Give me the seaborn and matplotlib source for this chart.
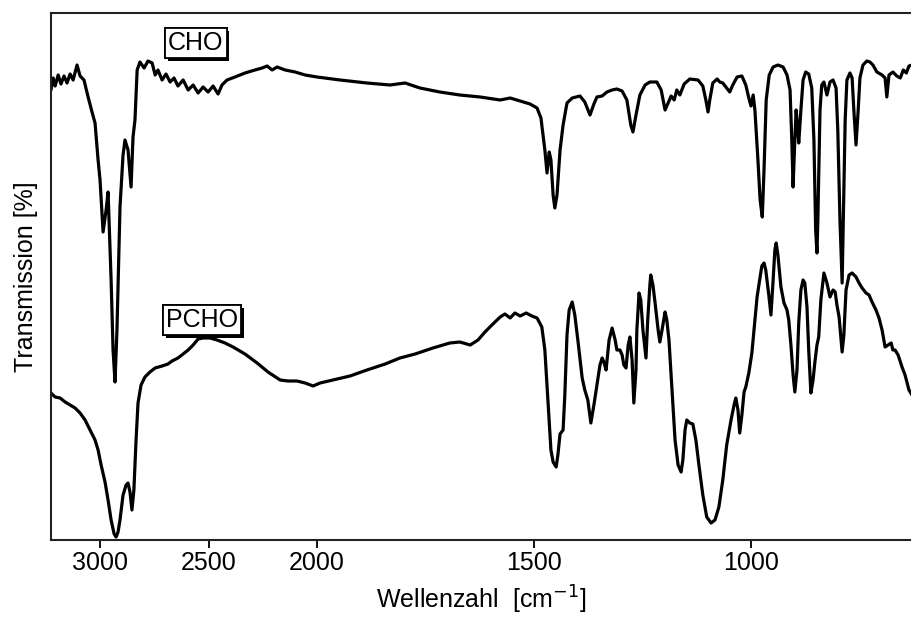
import numpy as np
import pandas as pd
import matplotlib
matplotlib.use("Agg")
import matplotlib.pyplot as plt
import matplotlib.patheffects as pe
import seaborn as sns

# ---- data (wavenumber in cm^-1, transmission in arbitrary %) ----
cho_wn = [3226, 3216, 3207, 3193, 3180, 3166, 3152, 3138, 3124, 3106, 3092, 3074, 3055, 3037, 3023, 3009,
          3000, 2986, 2972, 2963, 2949, 2940, 2931, 2922, 2908, 2894, 2885, 2871, 2857, 2848, 2839, 2829,
          2816, 2797, 2779, 2760, 2746, 2733, 2714, 2696, 2677, 2659, 2641, 2617, 2594, 2571, 2548, 2525,
          2502, 2479, 2456, 2438, 2415, 2378, 2332, 2286, 2253, 2230, 2207, 2184, 2147, 2101, 2055, 2000,
          1947, 1885, 1832, 1797, 1763, 1717, 1671, 1624, 1578, 1555, 1532, 1509, 1493, 1484, 1475, 1470,
          1465, 1461, 1456, 1452, 1447, 1440, 1433, 1424, 1412, 1394, 1383, 1371, 1362, 1355, 1343, 1332,
          1320, 1309, 1297, 1286, 1277, 1272, 1265, 1256, 1244, 1233, 1217, 1207, 1198, 1191, 1184, 1177,
          1171, 1164, 1154, 1141, 1122, 1111, 1104, 1099, 1095, 1088, 1078, 1072, 1065, 1056, 1049, 1042,
          1032, 1021, 1012, 1005, 1000, 995, 991, 984, 979, 974, 970, 965, 958, 949, 938, 926,
          917, 910, 906, 903, 899, 896, 892, 890, 885, 880, 874, 867, 860, 855, 851, 848,
          846, 841, 837, 832, 825, 818, 811, 804, 800, 795, 790, 788, 783, 779, 772, 767,
          763, 758, 753, 749, 742, 733, 726, 719, 710, 698, 691, 687, 682, 673, 664, 656,
          649, 642, 636, 629]
cho_t = [90.0, 92.4, 90.8, 93.0, 91.2, 92.8, 91.4, 93.2, 92.0, 95.0, 92.8, 92.0, 88.6, 85.6, 83.4, 76.0,
         72.0, 61.6, 66.0, 69.6, 52.0, 38.0, 31.6, 42.0, 66.6, 77.0, 80.0, 78.0, 70.6, 80.6, 84.0, 94.0,
         95.6, 94.4, 95.8, 95.4, 93.0, 94.0, 92.0, 93.2, 91.6, 92.4, 90.8, 92.0, 90.0, 91.0, 89.4, 90.6,
         89.6, 90.8, 89.2, 91.0, 92.0, 92.6, 93.4, 94.0, 94.4, 94.8, 94.0, 94.6, 94.0, 93.6, 93.0, 92.6,
         92.0, 91.4, 91.0, 91.4, 90.4, 89.6, 89.0, 88.6, 88.0, 88.4, 87.8, 87.2, 86.4, 84.4, 78.0, 73.4,
         77.6, 76.0, 69.0, 66.4, 69.0, 78.0, 83.0, 87.4, 88.4, 88.8, 87.6, 85.0, 87.2, 88.6, 88.8, 89.6,
         90.0, 90.2, 89.8, 88.0, 83.0, 81.6, 85.0, 89.0, 91.0, 91.6, 91.6, 90.0, 86.0, 87.4, 88.8, 88.0,
         90.0, 89.0, 91.2, 92.2, 92.0, 90.8, 88.0, 85.6, 88.0, 91.4, 92.2, 91.6, 91.4, 90.4, 89.6, 91.0,
         92.6, 92.8, 91.0, 88.4, 86.8, 89.0, 86.0, 76.0, 68.0, 64.6, 74.0, 88.0, 93.0, 94.6, 95.0, 94.6,
         93.0, 90.0, 80.0, 70.6, 80.0, 86.0, 82.0, 79.4, 86.0, 92.0, 93.6, 93.2, 90.4, 80.0, 62.0, 57.4,
         63.8, 86.0, 91.0, 91.6, 89.0, 91.6, 92.0, 90.4, 82.0, 64.0, 51.4, 60.0, 84.0, 92.0, 93.4, 92.4,
         86.0, 79.0, 86.0, 92.4, 95.0, 95.8, 95.6, 95.0, 93.6, 93.0, 92.4, 88.6, 93.0, 93.6, 92.8, 92.4,
         94.0, 93.4, 94.8, 95.0]

pcho_wn = [3226, 3207, 3184, 3161, 3138, 3115, 3092, 3069, 3046, 3023, 3009, 2995, 2977, 2963, 2949, 2935,
           2926, 2917, 2908, 2894, 2880, 2871, 2862, 2853, 2844, 2834, 2825, 2811, 2793, 2770, 2746, 2714,
           2687, 2668, 2641, 2617, 2594, 2571, 2548, 2525, 2493, 2461, 2424, 2387, 2332, 2276, 2226, 2170,
           2134, 2092, 2055, 2018, 1993, 1963, 1924, 1885, 1843, 1809, 1774, 1733, 1694, 1671, 1647, 1629,
           1613, 1597, 1578, 1567, 1555, 1544, 1532, 1518, 1505, 1493, 1482, 1475, 1468, 1461, 1456, 1449,
           1445, 1440, 1433, 1429, 1424, 1419, 1412, 1406, 1399, 1389, 1383, 1376, 1369, 1362, 1355, 1348,
           1343, 1339, 1334, 1327, 1320, 1313, 1309, 1302, 1297, 1293, 1288, 1283, 1279, 1274, 1270, 1265,
           1263, 1258, 1254, 1249, 1242, 1238, 1233, 1231, 1226, 1221, 1214, 1210, 1205, 1198, 1194, 1189,
           1182, 1175, 1168, 1161, 1157, 1152, 1148, 1141, 1134, 1127, 1120, 1111, 1102, 1092, 1083, 1074,
           1065, 1056, 1046, 1039, 1035, 1030, 1026, 1021, 1016, 1012, 1005, 998, 991, 986, 979, 975,
           970, 966, 959, 954, 949, 945, 942, 938, 931, 924, 917, 913, 908, 903, 899, 894,
           890, 885, 880, 876, 871, 867, 862, 857, 853, 848, 844, 839, 832, 825, 818, 811,
           806, 802, 797, 790, 786, 781, 774, 767, 758, 751, 744, 735, 728, 721, 712, 705,
           698, 691, 684, 677, 673, 668, 661, 652, 645, 636, 629]
pcho_t = [29.4, 28.6, 28.4, 27.6, 27.0, 26.4, 25.4, 24.0, 22.0, 20.0, 18.0, 15.0, 11.6, 8.0, 4.0, 1.2,
          0.6, 1.6, 4.0, 9.0, 11.0, 11.4, 9.6, 6.0, 10.0, 20.0, 27.4, 31.0, 32.6, 33.6, 34.4, 34.8,
          35.2, 35.8, 36.4, 37.2, 38.0, 39.0, 40.2, 40.4, 40.4, 40.0, 39.4, 38.6, 37.2, 35.4, 33.6, 32.0,
          31.8, 31.8, 31.4, 30.8, 31.4, 32.0, 32.8, 34.0, 35.2, 36.4, 37.2, 38.4, 39.4, 39.6, 39.0, 40.0,
          41.6, 43.0, 44.6, 45.2, 44.4, 45.4, 44.8, 45.4, 44.8, 44.4, 42.6, 38.0, 28.0, 18.0, 15.6, 14.6,
          17.0, 21.2, 22.0, 29.0, 41.0, 46.0, 47.6, 45.0, 40.0, 32.4, 30.0, 28.0, 23.4, 27.0, 31.0, 35.0,
          36.4, 35.6, 34.0, 40.0, 42.4, 40.0, 38.0, 38.0, 37.0, 35.0, 34.4, 39.0, 40.6, 36.0, 27.4, 34.0,
          42.0, 49.4, 48.0, 42.0, 36.4, 44.0, 51.0, 53.0, 51.0, 47.4, 42.0, 39.6, 42.0, 45.6, 44.0, 40.0,
          30.0, 20.0, 15.0, 13.6, 16.0, 22.0, 24.0, 23.4, 23.2, 20.0, 15.0, 9.0, 4.6, 3.4, 4.0, 6.6,
          12.0, 19.0, 24.0, 27.0, 28.4, 26.0, 21.4, 25.0, 29.6, 30.6, 33.4, 37.4, 44.0, 48.6, 52.6, 54.8,
          55.4, 54.0, 49.0, 45.0, 52.0, 58.0, 59.4, 57.0, 50.6, 47.4, 46.0, 44.0, 39.0, 33.0, 29.6, 34.0,
          43.4, 50.0, 52.0, 51.4, 46.6, 38.0, 29.4, 32.0, 35.4, 39.0, 40.6, 48.0, 53.4, 51.4, 48.6, 50.0,
          49.6, 47.0, 44.6, 37.6, 41.0, 50.0, 53.0, 53.4, 52.6, 51.4, 50.4, 49.4, 49.0, 47.6, 46.0, 44.4,
          42.0, 38.6, 39.0, 39.4, 38.0, 38.0, 37.0, 34.6, 33.0, 30.0, 29.0]

tick_values = [3000, 2500, 2000, 1500, 1000]
tick_labels = ["3000", "2500", "2000", "1500", "1000"]
series_labels = ["CHO", "PCHO"]

# ---- style ----
sns.set_style("ticks")
plt.rcParams["font.family"] = ["Liberation Sans", "DejaVu Sans"]
plt.rcParams["mathtext.fontset"] = "custom"
plt.rcParams["mathtext.rm"] = "Liberation Sans"
plt.rcParams["mathtext.it"] = "Liberation Sans"
plt.rcParams["text.color"] = "black"
plt.rcParams["axes.labelcolor"] = "black"
plt.rcParams["xtick.color"] = "black"

fig = plt.figure(figsize=(9.12, 6.21), dpi=100)
ax = fig.add_axes([51 / 912, 1 - 540 / 621, 1 - 51 / 912, (540 - 13) / 621])

# IR instrument scale: region above 2000 cm^-1 compressed by a factor of 2
def fwd(x):
    x = np.asarray(x, dtype=float)
    return np.where(x > 2000, 2000 + (x - 2000) / 2.0, x)

def inv(x):
    x = np.asarray(x, dtype=float)
    return np.where(x > 2000, 2000 + (x - 2000) * 2.0, x)

ax.set_xscale("function", functions=(fwd, inv))

df = pd.concat([
    pd.DataFrame({"wn": cho_wn, "T": cho_t, "sample": "CHO"}),
    pd.DataFrame({"wn": pcho_wn, "T": pcho_t, "sample": "PCHO"}),
])
sns.lineplot(data=df, x="wn", y="T", units="sample", estimator=None, color="black",
             linewidth=2.3, ax=ax, legend=False)

ax.set_xlim(3226, 629)
ax.set_ylim(0, 105.4)
ax.set_xticks(tick_values)
ax.set_xticklabels(tick_labels)
ax.xaxis.set_minor_locator(matplotlib.ticker.NullLocator())
ax.set_yticks([])
ax.tick_params(axis="x", direction="out", length=6, width=1.3, labelsize=18, colors="black", pad=2)
for s in ["left", "top", "bottom"]:
    ax.spines[s].set_linewidth(1.5)
    ax.spines[s].set_color("#222222")
ax.spines["right"].set_visible(False)

ax.set_xlabel("Wellenzahl  [cm$^{\\mathsf{-1}}$]", fontsize=18, labelpad=6)
ax.set_ylabel("Transmission [%]", fontsize=18, labelpad=9)

for lab, (wx, ty) in zip(series_labels, [(2558, 99.4), (2530, 44.0)]):
    t = ax.text(wx, ty, lab, fontsize=18, ha="center", va="center", color="black",
                bbox=dict(boxstyle="square,pad=0.12", fc="white", ec="black", lw=1.3))
    t.get_bbox_patch().set_path_effects([
        pe.withSimplePatchShadow(offset=(2, -2), shadow_rgbFace="black", alpha=1.0), pe.Normal()])

fig.savefig("out.png", dpi=100)
